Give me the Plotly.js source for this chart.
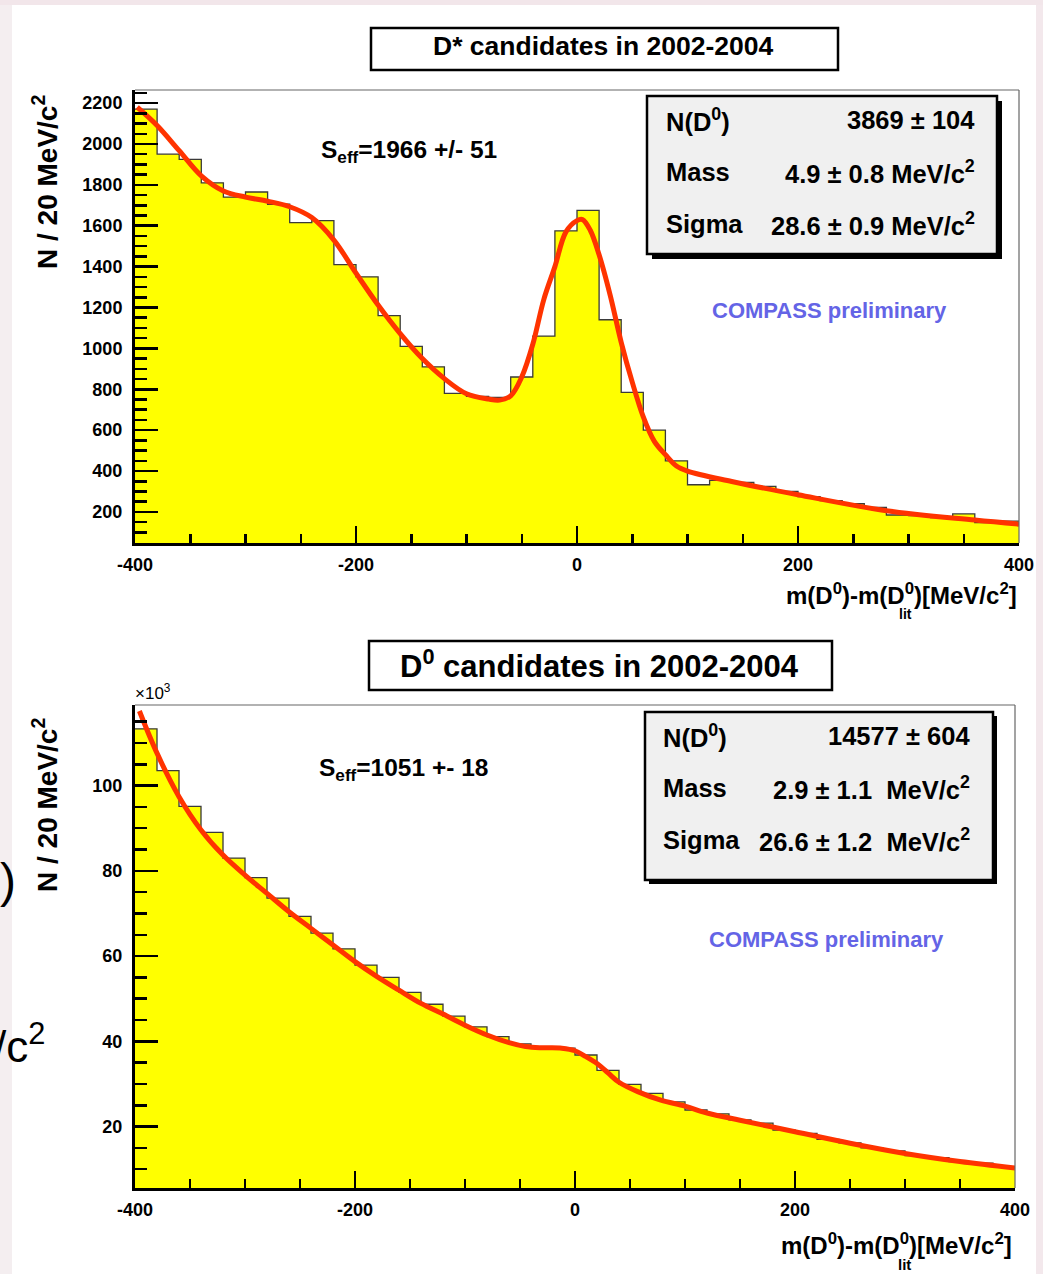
<!DOCTYPE html>
<html>
<head>
<meta charset="utf-8">
<script src="https://cdn.plot.ly/plotly-3.0.1.min.js"></script>
<style>
  html, body { margin: 0; padding: 0; background: #ffffff; }
  #chart { width: 1043px; height: 1274px; }
</style>
</head>
<body>
<div id="chart"></div>
<script>
// Bin edges in MeV/c^2 (20 MeV bins)
const binEdges = [-400, -380, -360, -340, -320, -300, -280, -260, -240, -220,
                  -200, -180, -160, -140, -120, -100, -80, -60, -40, -20,
                  0, 20, 40, 60, 80, 100, 120, 140, 160, 180,
                  200, 220, 240, 260, 280, 300, 320, 340, 360, 380, 400];

// x-axis tick positions and labels
const xTickVals = [-400, -200, 0, 200, 400];
const xTickText = ["-400", "-200", "0", "200", "400"];

// D* tagged sample: entries per bin
const dstarCounts = [2170, 1950, 1925, 1810, 1740, 1765, 1705, 1615, 1625, 1410,
                     1350, 1160, 1010, 910, 780, 765, 760, 860, 1060, 1575,
                     1675, 1140, 785, 600, 450, 333, 355, 345, 325, 300,
                     275, 255, 240, 222, 185, 182, 172, 190, 148, 155];

// D* sample: fitted curve (signal + background)
const dstarFitX = [-398, -380, -360, -340, -320, -300, -280, -260, -240, -220,
                   -200, -180, -160, -140, -120, -100, -80, -70, -60, -50,
                   -40, -30, -20, -10, 0, 5, 12, 20, 30, 40,
                   50, 60, 70, 80, 90, 100, 140, 200, 280, 360, 400];
const dstarFitY = [2180, 2090, 1967, 1844, 1770, 1740, 1720, 1693, 1640, 1530,
                   1368, 1212, 1072, 950, 852, 778, 752, 747, 768, 860,
                   1020, 1240, 1400, 1570, 1625, 1630, 1578, 1458, 1261, 1030,
                   835, 665, 545, 480, 425, 400, 349, 284, 206, 160, 140];

// Untagged D0 sample: entries per bin, in thousands
const d0CountsK = [113.3, 103.5, 95.1, 89.0, 83.0, 78.4, 73.6, 69.3, 65.4, 61.7,
                   57.9, 55.0, 51.5, 48.7, 45.9, 43.4, 41.1, 39.4, 38.6, 38.4,
                   36.8, 33.2, 29.9, 27.8, 25.8, 23.9, 23.0, 21.6, 20.8, 19.2,
                   18.4, 17.0, 16.2, 15.0, 14.3, 13.2, 12.7, 11.8, 11.4, 10.6];

// D0 sample: fitted curve, in thousands
const d0FitX = [-396, -380, -360, -340, -320, -300, -280, -260, -240, -220,
                -200, -180, -160, -140, -120, -100, -80, -60, -45, -30,
                -12, 0, 10, 20, 30, 40, 57, 78, 100, 120,
                150, 200, 250, 300, 350, 400];
const d0FitY = [117.5, 107.6, 97.4, 89.6, 83.7, 79.0, 74.7, 70.4, 66.5, 62.6,
                58.7, 55.2, 52.0, 48.9, 46.4, 43.8, 41.5, 39.7, 38.8, 38.5,
                38.4, 37.8, 36.4, 34.8, 32.6, 30.4, 28.2, 26.2, 24.8, 23.2,
                21.5, 18.8, 16.1, 13.7, 11.8, 10.3];

// Fit results shown in the statistics boxes
const dstarStats = [["N(D<sup>0</sup>)", "3869 \u00b1 104"],
                    ["Mass", "4.9 \u00b1 0.8 MeV/c<sup>2</sup>"],
                    ["Sigma", "28.6 \u00b1 0.9 MeV/c<sup>2</sup>"]];
const d0Stats = [["N(D<sup>0</sup>)", "14577 \u00b1 604"],
                 ["Mass", "2.9 \u00b1 1.1  MeV/c<sup>2</sup>"],
                 ["Sigma", "26.6 \u00b1 1.2  MeV/c<sup>2</sup>"]];

const W = 1043, H = 1274;
const px = v => v / W;
const py = v => 1 - v / H;
const FONT = "Liberation Sans, Arial, Helvetica, sans-serif";
const bold = (size, color) => ({family: FONT, size: size, color: color || "#000", weight: "bold"});

// step outline: one point per bin plus a closing point at the upper edge
function stepY(counts) { return counts.concat([counts[counts.length - 1]]); }

const histStyle = {
  type: "scatter", mode: "lines",
  line: {shape: "hv", color: "#3a3a3a", width: 1.3},
  fill: "tozeroy", fillcolor: "#ffff00", hoverinfo: "skip", showlegend: false
};
const fitStyle = {
  type: "scatter", mode: "lines",
  line: {shape: "spline", smoothing: 1, color: "#ff3300", width: 5},
  hoverinfo: "skip", showlegend: false
};

const traces = [
  Object.assign({x: binEdges, y: stepY(dstarCounts), xaxis: "x", yaxis: "y"}, histStyle),
  Object.assign({x: dstarFitX, y: dstarFitY, xaxis: "x", yaxis: "y"}, fitStyle),
  Object.assign({x: binEdges, y: stepY(d0CountsK), xaxis: "x2", yaxis: "y2"}, histStyle),
  Object.assign({x: d0FitX, y: d0FitY, xaxis: "x2", yaxis: "y2"}, fitStyle)
];

function xAxis(domain, anchor) {
  return {
    domain: domain, anchor: anchor, range: [-400, 400],
    tickmode: "array", tickvals: xTickVals, ticktext: xTickText,
    ticks: "inside", ticklen: 17, tickwidth: 2.5, tickcolor: "#000",
    showline: true, linewidth: 3, linecolor: "#000",
    showgrid: false, zeroline: false, fixedrange: true,
    tickfont: bold(18), ticklabelstandoff: 3,
    minor: {dtick: 50, tick0: -400, ticks: "inside", ticklen: 9, tickwidth: 2.5,
            tickcolor: "#000", showgrid: false}
  };
}
function yAxis(domain, anchor, range, dtick, minorDtick) {
  return {
    domain: domain, anchor: anchor, range: range,
    tickmode: "linear", tick0: 0, dtick: dtick,
    ticks: "inside", ticklen: 23, tickwidth: 2.5, tickcolor: "#000",
    showline: true, linewidth: 3, linecolor: "#000",
    showgrid: false, zeroline: false, fixedrange: true,
    tickfont: bold(18), ticklabelstandoff: 6,
    minor: {dtick: minorDtick, tick0: 0, ticks: "inside", ticklen: 12, tickwidth: 2.5,
            tickcolor: "#000", showgrid: false}
  };
}

const shapes = [];
// slide background strips
shapes.push({type: "rect", xref: "paper", yref: "paper", x0: 0, x1: px(12), y0: 0, y1: 1,
             fillcolor: "#f4eef0", line: {width: 0}, layer: "below"});
shapes.push({type: "rect", xref: "paper", yref: "paper", x0: px(1036), x1: 1, y0: 0, y1: 1,
             fillcolor: "#f3e8ec", line: {width: 0}, layer: "below"});
shapes.push({type: "rect", xref: "paper", yref: "paper", x0: 0, x1: 1, y0: py(5), y1: 1,
             fillcolor: "#f2e6ea", line: {width: 0}, layer: "below"});

// thin frame on the top and right of each pad
function frame(l, r, t, b) {
  shapes.push({type: "line", xref: "paper", yref: "paper", x0: px(l), x1: px(r), y0: py(t), y1: py(t),
               line: {color: "#666", width: 1.2}, layer: "above"});
  shapes.push({type: "line", xref: "paper", yref: "paper", x0: px(r), x1: px(r), y0: py(t), y1: py(b),
               line: {color: "#666", width: 1.2}, layer: "above"});
}
frame(135, 1019, 90, 543);
frame(135, 1015, 705, 1188);

function box(l, t, r, b, fill) {
  shapes.push({type: "rect", xref: "paper", yref: "paper", x0: px(l), x1: px(r), y0: py(b), y1: py(t),
               fillcolor: fill, line: {color: "#000", width: 2.5}, layer: "above"});
}
function shadow(l, t, r, b, off) {
  shapes.push({type: "rect", xref: "paper", yref: "paper", x0: px(l + off), x1: px(r + off),
               y0: py(b + off), y1: py(t + off), fillcolor: "#000", line: {width: 0}, layer: "above"});
}
// title boxes
box(371, 28, 838, 70, "#ffffff");
box(369, 641, 832, 690, "#ffffff");
// statistics boxes with drop shadow
shadow(647, 96, 997, 254, 5);
box(647, 96, 997, 254, "#f0f0f0");
shadow(645, 712, 993, 880, 4);
box(645, 712, 993, 880, "#f0f0f0");

const annotations = [];
function text(t, x, y, font, xanchor, extra) {
  annotations.push(Object.assign({text: t, x: px(x), y: py(y), xref: "paper", yref: "paper",
    xanchor: xanchor || "center", yanchor: "middle", showarrow: false, font: font}, extra || {}));
}

text("D* candidates in 2002-2004", 603, 46, bold(26.5));
text("D<sup>0</sup> candidates in 2002-2004", 599, 664, bold(31));

text("S<sub>eff</sub>=1966 +/- 51", 319, 151, bold(24.5), "left");
text("S<sub>eff</sub>=1051 +- 18", 317, 769, bold(24.5), "left");

const statRowsTop = [120, 172, 224];
dstarStats.forEach((row, i) => {
  text(row[0], 664, statRowsTop[i], bold(25.5), "left");
  text(row[1], 977, statRowsTop[i], bold(25.5), "right");
});
const statRowsBottom = [736, 788, 840];
d0Stats.forEach((row, i) => {
  text(row[0], 661, statRowsBottom[i], bold(25.5), "left");
  text(row[1], 972, statRowsBottom[i], bold(25.5), "right");
});

text("COMPASS preliminary", 829, 310, bold(22, "#6464e6"));
text("COMPASS preliminary", 826, 940, bold(22, "#6464e6"));

text("N / 20 MeV/c<sup>2</sup>", 45, 182, bold(28), "center", {textangle: -90});
text("N / 20 MeV/c<sup>2</sup>", 45, 805, bold(28), "center", {textangle: -90});

text("m(D<sup>0</sup>)-m(D<sup>0</sup>)[MeV/c<sup>2</sup>]", 1019, 594, bold(24), "right");
text("lit", 905, 614, bold(14));
text("m(D<sup>0</sup>)-m(D<sup>0</sup>)[MeV/c<sup>2</sup>]", 1014, 1244, bold(24), "right");
text("lit", 904, 1264, bold(15));

text("\u00d710<sup>3</sup>", 133, 692, {family: FONT, size: 17, color: "#000"}, "left");

// slide text peeking out at the left edge
text(")", -2, 880, {family: FONT, size: 48, color: "#000"}, "left");
text("/c<sup>2</sup>", -8, 1043, {family: FONT, size: 44, color: "#000"}, "left");

const layout = {
  width: W, height: H,
  margin: {l: 0, r: 0, t: 0, b: 0},
  paper_bgcolor: "#ffffff", plot_bgcolor: "#ffffff",
  showlegend: false,
  xaxis: xAxis([px(135), px(1019)], "y"),
  yaxis: yAxis([py(543), py(90)], "x", [48, 2264], 200, 50),
  xaxis2: xAxis([px(135), px(1015)], "y2"),
  yaxis2: yAxis([py(1188), py(705)], "x2", [5.6, 118.9], 20, 5),
  shapes: shapes,
  annotations: annotations
};

Plotly.newPlot("chart", traces, layout, {staticPlot: true, displayModeBar: false});
</script>
</body>
</html>
